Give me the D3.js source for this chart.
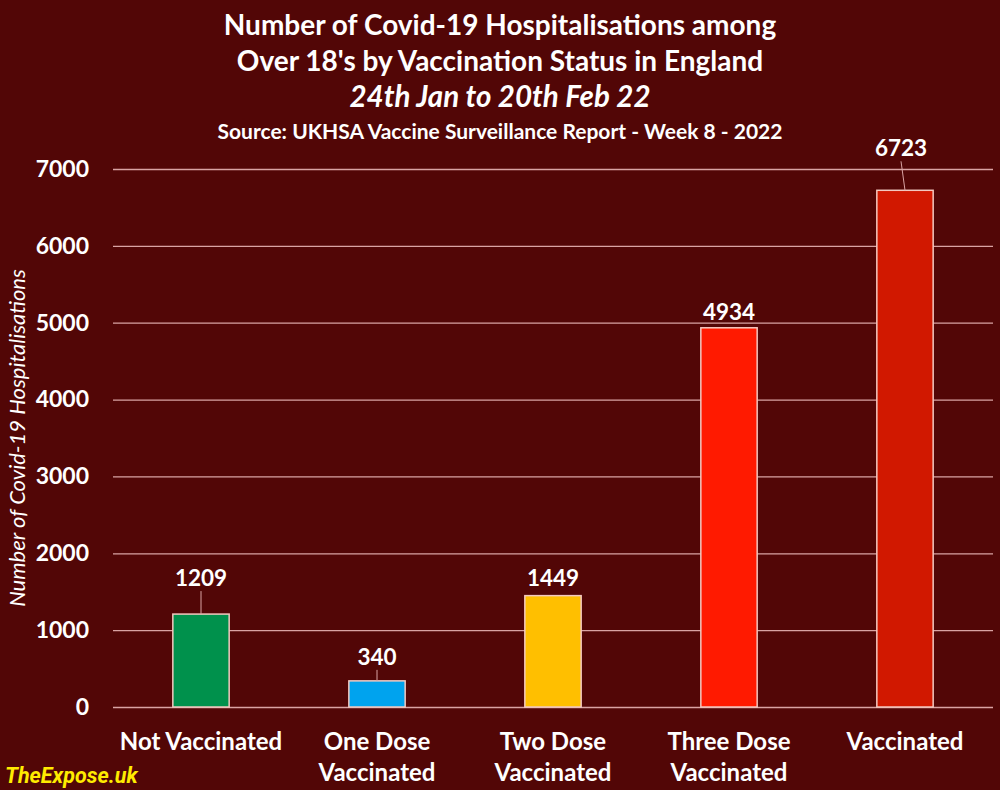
<!DOCTYPE html>
<html>
<head>
<meta charset="utf-8">
<script src="https://cdn.jsdelivr.net/npm/d3@7"></script>
<style>
  body { margin: 0; background: #520606; }
  svg { display: block; font-family: Lato, "Open Sans", sans-serif; }
</style>
</head>
<body>
<div class="chart"></div>
<script>
// data
let categories = [['Not Vaccinated'], ['One Dose', 'Vaccinated'], ['Two Dose', 'Vaccinated'], ['Three Dose', 'Vaccinated'], ['Vaccinated']];
let hospitalisations = [1209, 340, 1449, 4934, 6723];
let yTicks = [0, 1000, 2000, 3000, 4000, 5000, 6000, 7000];
let barColors = ['#00914c', '#00a3ee', '#ffbf00', '#ff1a00', '#d11800'];
// how far each value label sits above its bar (px), as laid out in the picture
let labelLift = [28, 16, 10, 8, 34];
let labelShift = [0, 0, 0, 0, -4];

let width = 1000;
let height = 790;

let svg = d3.select('.chart')
            .append('svg')
            .attr('width', width)
            .attr('height', height);

svg.append('rect')
   .attr('width', width)
   .attr('height', height)
   .attr('fill', '#520606');

// titles
let titles = [
  {t: 'Number of Covid-19 Hospitalisations among', y: 35, size: 28, style: 'normal'},
  {t: "Over 18's by Vaccination Status in England", y: 71, size: 28, style: 'normal'},
  {t: '24th Jan to 20th Feb 22', y: 107, size: 29.5, style: 'italic'},
  {t: 'Source: UKHSA Vaccine Surveillance Report - Week 8 - 2022', y: 139, size: 21, style: 'normal'}
];
svg.selectAll('.title')
   .data(titles)
   .enter()
   .append('text')
   .attr('class', 'title')
   .attr('x', 500)
   .attr('y', d => d.y)
   .attr('text-anchor', 'middle')
   .attr('fill', '#ffffff')
   .attr('font-weight', 700)
   .attr('font-size', d => d.size)
   .attr('font-style', d => d.style)
   .text(d => d.t);

let xScale = d3.scaleBand()
               .domain(d3.range(hospitalisations.length))
               .range([113, 993])
               .paddingInner(0.68)
               .paddingOuter(0.34);
let yScale = d3.scaleLinear()
               .domain([0, 7000])
               .range([707, 169]);

// gridlines + tick labels
let yAxis = d3.axisLeft(yScale)
              .tickValues(yTicks)
              .tickSize(-(993 - 113))
              .tickPadding(24)
              .tickFormat(d3.format('d'));
let yG = svg.append('g')
            .attr('id', 'y-axis')
            .attr('transform', 'translate(113,0)')
            .call(yAxis);
yG.select('.domain').remove();
yG.selectAll('.tick line')
  .attr('stroke', '#d9a3a3')
  .attr('stroke-width', 1.3);
yG.selectAll('.tick text')
  .attr('fill', '#ffffff')
  .attr('font-size', 23)
  .attr('font-weight', 700)
  .attr('font-family', 'Lato, sans-serif');

svg.append('text')
   .attr('transform', 'translate(25,438) rotate(-90)')
   .attr('text-anchor', 'middle')
   .attr('fill', '#ffffff')
   .attr('font-size', 22)
   .attr('font-style', 'italic')
   .text('Number of Covid-19 Hospitalisations');

// bars
svg.selectAll('.bar')
   .data(hospitalisations)
   .enter()
   .append('rect')
   .attr('class', 'bar')
   .attr('x', (d, i) => xScale(i))
   .attr('y', d => yScale(d))
   .attr('width', xScale.bandwidth())
   .attr('height', d => yScale(0) - yScale(d))
   .attr('fill', (d, i) => barColors[i])
   .attr('stroke', '#f3c9c0')
   .attr('stroke-width', 1.5);

// leader lines for labels lifted well above their bars
svg.selectAll('.leader')
   .data(hospitalisations.map((d, i) => i).filter(i => labelLift[i] > 14))
   .enter()
   .append('line')
   .attr('class', 'leader')
   .attr('x1', i => xScale(i) + xScale.bandwidth() / 2 + labelShift[i])
   .attr('y1', i => yScale(hospitalisations[i]) - labelLift[i] + 5)
   .attr('x2', i => xScale(i) + xScale.bandwidth() / 2)
   .attr('y2', i => yScale(hospitalisations[i]))
   .attr('stroke', '#d9a3a3')
   .attr('stroke-width', 1);

svg.selectAll('.value')
   .data(hospitalisations)
   .enter()
   .append('text')
   .attr('class', 'value')
   .attr('x', (d, i) => xScale(i) + xScale.bandwidth() / 2 + labelShift[i])
   .attr('y', (d, i) => yScale(d) - labelLift[i])
   .attr('text-anchor', 'middle')
   .attr('fill', '#ffffff')
   .attr('font-size', 22.5)
   .attr('font-weight', 700)
   .text(d => d);

// category labels
let cats = svg.selectAll('.cat')
              .data(categories)
              .enter()
              .append('text')
              .attr('class', 'cat')
              .attr('text-anchor', 'middle')
              .attr('fill', '#ffffff')
              .attr('font-size', 24)
              .attr('font-weight', 700);
cats.selectAll('tspan')
    .data((d, i) => d.map(line => ({line: line, i: i})))
    .enter()
    .append('tspan')
    .attr('x', d => xScale(d.i) + xScale.bandwidth() / 2)
    .attr('y', (d, j) => 750 + j * 31)
    .text(d => d.line);

svg.append('text')
   .attr('x', 5)
   .attr('y', 783)
   .attr('fill', '#ffeb00')
   .attr('font-size', 21.5)
   .attr('font-weight', 700)
   .attr('font-style', 'italic')
   .attr('font-family', 'Roboto, sans-serif')
   .text('TheExpose.uk');
</script>
</body>
</html>
